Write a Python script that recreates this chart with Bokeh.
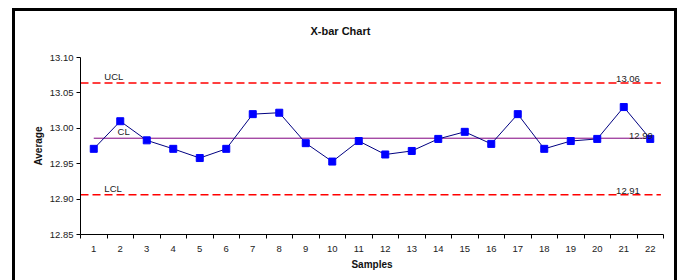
from bokeh.plotting import figure
from bokeh.models import Range1d, FixedTicker, Label
from bokeh.embed import file_html
from bokeh.resources import INLINE

# ---- data ----
samples = list(range(1, 23))
averages = [12.971, 13.010, 12.983, 12.971, 12.958, 12.971, 13.020, 13.022,
            12.979, 12.953, 12.982, 12.963, 12.968, 12.985, 12.995, 12.978,
            13.020, 12.971, 12.982, 12.985, 13.030, 12.985]
ucl = 13.064
cl = 12.986
lcl = 12.906
y_ticks = [12.85, 12.90, 12.95, 13.00, 13.05, 13.10]
title_text = "X-bar Chart"
x_label = "Samples"
y_label = "Average"

FONT = "Liberation Sans"

p = figure(width=677, height=280,
           x_range=Range1d(samples[0] - 0.5, samples[-1] + 0.5),
           y_range=Range1d(y_ticks[0], y_ticks[-1]),
           output_backend="svg", toolbar_location=None,
           min_border_left=80, min_border_right=14,
           min_border_top=57, min_border_bottom=46)
# chart-area box (top, left, right edges; the bottom lies below the window)
p.styles = {"box-shadow": ("inset 12px 8px 0 0 white, "
                           "inset 15px 11px 0 0 black, "
                           "inset -3px 0 0 0 black")}
p.outline_line_color = None
p.xgrid.visible = False
p.ygrid.visible = False
p.background_fill_color = "white"
p.border_fill_color = None

# title (an empty second line lifts it above the plot area)
p.title.text = title_text + "\n "
p.title.align = "left"
p.title.offset = 230
p.title.standoff = 17
p.title.text_font = FONT
p.title.text_font_size = "11px"
p.title.text_font_style = "bold"
p.title.text_color = "#111111"

# axes
xa = p.xaxis[0]
xa.ticker = FixedTicker(ticks=samples, minor_ticks=[s - 0.5 for s in samples] + [samples[-1] + 0.5])
xa.major_tick_out = 0
xa.major_tick_in = 0
xa.minor_tick_out = 4
xa.minor_tick_in = 0
xa.minor_tick_line_color = "black"
xa.axis_line_color = "black"
xa.major_label_standoff = 7
xa.major_label_text_font = FONT
xa.major_label_text_font_size = "9.5px"
xa.major_label_text_color = "#222222"
xa.axis_label = x_label
xa.axis_label_text_font = FONT
xa.axis_label_text_font_size = "10px"
xa.axis_label_text_font_style = "bold"
xa.axis_label_text_color = "#111111"
xa.axis_label_standoff = 4

ya = p.yaxis[0]
ya.ticker = FixedTicker(ticks=y_ticks)
ya.major_label_overrides = {t: f"{t:.2f}" for t in y_ticks}
ya.major_tick_out = 4
ya.major_tick_in = 0
ya.minor_tick_out = 0
ya.minor_tick_in = 0
ya.axis_line_color = "black"
ya.major_tick_line_color = "black"
ya.major_label_standoff = 3
ya.major_label_text_font = FONT
ya.major_label_text_font_size = "9.5px"
ya.major_label_text_color = "#222222"
ya.axis_label = y_label
ya.axis_label_text_font = FONT
ya.axis_label_text_font_size = "10px"
ya.axis_label_text_font_style = "bold"
ya.axis_label_text_color = "#111111"
ya.axis_label_standoff = 3

# control lines
x_lo = samples[0] - 0.5
x_hi = samples[-1] + 0.4
p.line([x_lo, x_hi], [ucl, ucl], line_color="#FF0000", line_width=1.5, line_dash="8 4")
p.line([x_lo, x_hi], [lcl, lcl], line_color="#FF0000", line_width=1.5, line_dash="8 4")
p.line([samples[0], samples[-1]], [cl, cl], line_color="#800080", line_width=1)

# data series
p.line(samples, averages, line_color="#000080", line_width=1)
p.scatter(samples, averages, marker="square", size=7, fill_color="#0000FF", line_color="#0000FF")

lbl_style = dict(text_font=FONT, text_font_size="9.5px", text_color="#222222")
p.add_layout(Label(x=1.4, y=ucl, text="UCL", text_baseline="bottom", y_offset=1, **lbl_style))
p.add_layout(Label(x=1.9, y=cl, text="CL", text_baseline="bottom", y_offset=1, **lbl_style))
p.add_layout(Label(x=1.4, y=lcl, text="LCL", text_baseline="bottom", y_offset=1, **lbl_style))
p.add_layout(Label(x=21.16, y=ucl, text=f"{ucl:.2f}", text_align="center", text_baseline="bottom", y_offset=1, **lbl_style))
p.add_layout(Label(x=21.65, y=cl, text=f"{cl:.2f}", text_align="center", text_baseline="bottom", y_offset=-1, **lbl_style))
p.add_layout(Label(x=21.16, y=lcl, text=f"{lcl:.2f}", text_align="center", text_baseline="bottom", y_offset=1, **lbl_style))

open("out.html", "w").write(file_html(p, INLINE))
